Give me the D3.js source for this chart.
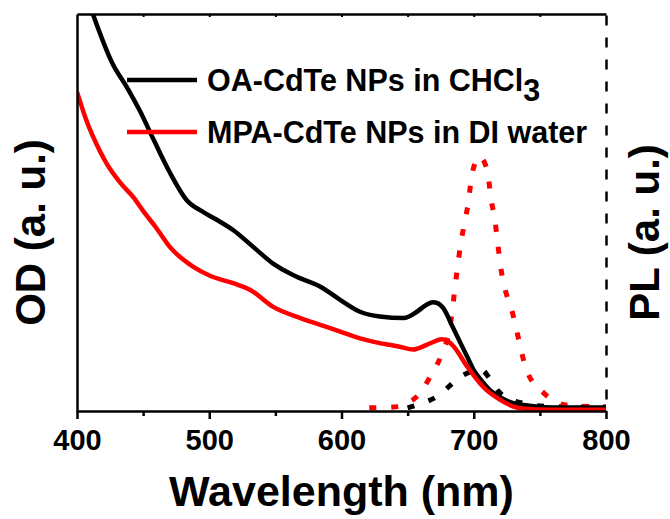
<!DOCTYPE html>
<html lang="en">
<head>
  <meta charset="UTF-8">
  <title>CdTe NPs absorption and PL</title>
  <script src="https://d3js.org/d3.v7.min.js"></script>
  <style>
    body {
      margin: 0;
      padding: 0;
      background-color: #fff;
    }
    text {
      font-family: Arial, "Liberation Sans", sans-serif;
      font-weight: bold;
      fill: #000;
    }
  </style>
</head>
<body>
  <svg id="chart" width="670" height="519"></svg>

  <script>
    // absorption of OA-CdTe in CHCl3 (solid black)
    const oaAbsWl = [400, 412, 427, 438, 448, 458, 470, 483, 495, 505, 518, 533, 548, 563, 569, 584, 599, 614, 629, 647, 657, 664, 669, 673, 677, 684, 690, 695, 700, 706, 712, 720, 727, 742, 758, 780, 800];
    const oaAbsOd = [1.12, 1.0, 0.874, 0.814, 0.753, 0.683, 0.602, 0.531, 0.502, 0.483, 0.456, 0.414, 0.372, 0.343, 0.334, 0.313, 0.280, 0.250, 0.238, 0.234, 0.250, 0.267, 0.274, 0.271, 0.259, 0.212, 0.171, 0.137, 0.103, 0.076, 0.053, 0.035, 0.023, 0.013, 0.009, 0.009, 0.009];

    // absorption of MPA-CdTe in DI water (solid red)
    const mpaAbsWl = [400, 407, 417, 423, 433, 443, 450, 460, 470, 488, 501, 518, 531, 548, 569, 584, 599, 614, 629, 644, 654, 664, 671, 676, 680, 685, 695, 707, 720, 735, 758, 800];
    const mpaAbsOd = [0.804, 0.733, 0.657, 0.620, 0.574, 0.537, 0.504, 0.461, 0.414, 0.363, 0.340, 0.322, 0.305, 0.263, 0.234, 0.217, 0.200, 0.183, 0.171, 0.162, 0.155, 0.166, 0.176, 0.181, 0.177, 0.162, 0.112, 0.061, 0.028, 0.007, 0.003, 0.003];

    // PL of OA-CdTe (dotted black)
    const oaPlWl = [650, 657, 672, 690, 697, 706, 712, 720, 738, 758, 780, 800];
    const oaPl = [0.008, 0.015, 0.036, 0.086, 0.098, 0.103, 0.082, 0.045, 0.019, 0.011, 0.010, 0.010];

    // PL of MPA-CdTe (dotted red)
    const mpaPlWl = [621, 639, 657, 667, 675, 682, 687, 690, 693, 696, 698, 701, 704, 708, 711, 713, 716, 718, 720, 730, 740, 753, 770, 788, 800];
    const mpaPl = [0.008, 0.010, 0.036, 0.086, 0.137, 0.212, 0.343, 0.418, 0.474, 0.527, 0.582, 0.625, 0.641, 0.627, 0.590, 0.536, 0.481, 0.426, 0.372, 0.238, 0.103, 0.045, 0.015, 0.011, 0.010];

    const xTicks = [400, 500, 600, 700, 800];
    const xMinorTicks = [450, 550, 650, 750];
    const legendLabels = ["OA-CdTe NPs in CHCl", "MPA-CdTe NPs in DI water"];
    const legendColors = ["#000", "#ff0000"];

    const frame = { left: 77, right: 606, top: 14, bottom: 411 };

    const svg = d3.select("#chart");

    const x = d3.scaleLinear().domain([400, 800]).range([frame.left, frame.right]);
    const yOd = d3.scaleLinear().domain([0, 1]).range([frame.bottom, frame.top]);
    const yPl = d3.scaleLinear().domain([0, 1]).range([frame.bottom, frame.top]);

    svg.append("defs").append("clipPath")
      .attr("id", "plot-clip")
      .append("rect")
      .attr("x", frame.left)
      .attr("y", frame.top)
      .attr("width", frame.right - frame.left)
      .attr("height", frame.bottom - frame.top);

    const plot = svg.append("g").attr("clip-path", "url(#plot-clip)");

    const zip = (xs, ys) => xs.map((w, i) => [w, ys[i]]);

    const odLine = d3.line()
      .x(d => x(d[0]))
      .y(d => yOd(d[1]))
      .curve(d3.curveMonotoneX);

    const plLine = d3.line()
      .x(d => x(d[0]))
      .y(d => yPl(d[1]))
      .curve(d3.curveMonotoneX);

    // PL curves sit behind the absorption curves
    plot.append("path")
      .datum(zip(oaPlWl, oaPl))
      .attr("d", plLine)
      .attr("fill", "none")
      .attr("stroke", "#000")
      .attr("stroke-width", 5)
      .attr("stroke-dasharray", "7,15");

    plot.append("path")
      .datum(zip(mpaPlWl, mpaPl))
      .attr("d", plLine)
      .attr("fill", "none")
      .attr("stroke", "#ff0000")
      .attr("stroke-width", 5)
      .attr("stroke-dasharray", "7,15");

    plot.append("path")
      .datum(zip(oaAbsWl, oaAbsOd))
      .attr("d", odLine)
      .attr("fill", "none")
      .attr("stroke", "#000")
      .attr("stroke-width", 4.5)
      .attr("stroke-linejoin", "round");

    plot.append("path")
      .datum(zip(mpaAbsWl, mpaAbsOd))
      .attr("d", odLine)
      .attr("fill", "none")
      .attr("stroke", "#ff0000")
      .attr("stroke-width", 4.5)
      .attr("stroke-linejoin", "round");

    // bottom axis: labelled major ticks plus short minor ticks
    const xAxis = svg.append("g")
      .attr("transform", `translate(0,${frame.bottom})`)
      .call(d3.axisBottom(x).tickValues(xTicks).tickSize(8).tickPadding(10).tickSizeOuter(0));
    xAxis.select(".domain").attr("stroke-width", 2.5);
    xAxis.selectAll(".tick line").attr("stroke-width", 2.5);
    xAxis.selectAll(".tick text").style("font-size", "29px");

    const xMinor = svg.append("g")
      .attr("transform", `translate(0,${frame.bottom})`)
      .call(d3.axisBottom(x).tickValues(xMinorTicks).tickSize(5).tickFormat("").tickSizeOuter(0));
    xMinor.select(".domain").remove();
    xMinor.selectAll(".tick line").attr("stroke-width", 2.5);

    // top axis with small inward ticks
    const xTop = svg.append("g")
      .attr("transform", `translate(0,${frame.top})`)
      .call(d3.axisTop(x).tickValues(d3.range(450, 800, 50)).tickSize(-3).tickFormat("").tickSizeOuter(0));
    xTop.select(".domain").attr("stroke-width", 2.5);
    xTop.selectAll(".tick line").attr("stroke-width", 2);

    // left OD axis, no ticks
    const yLeft = svg.append("g")
      .attr("transform", `translate(${frame.left},0)`)
      .call(d3.axisLeft(yOd).tickValues([]).tickSizeOuter(0));
    yLeft.select(".domain").attr("stroke-width", 2.5);

    // right PL axis, dashed
    const yRight = svg.append("g")
      .attr("transform", `translate(${frame.right},0)`)
      .call(d3.axisRight(yPl).tickValues([]).tickSizeOuter(0));
    yRight.select(".domain")
      .attr("stroke-width", 2.5)
      .attr("stroke-dasharray", "10,12")
      .attr("stroke-dashoffset", 10);

    // axis titles
    const midY = (frame.top + frame.bottom) / 2;

    svg.append("text")
      .attr("x", (frame.left + frame.right) / 2)
      .attr("y", 506)
      .attr("text-anchor", "middle")
      .style("font-size", "43px")
      .text("Wavelength (nm)");

    svg.append("text")
      .attr("transform", `translate(45,${midY + 20}) rotate(-90)`)
      .attr("text-anchor", "middle")
      .style("font-size", "42px")
      .text("OD (a. u.)");

    svg.append("text")
      .attr("transform", `translate(659,${midY + 20}) rotate(-90)`)
      .attr("text-anchor", "middle")
      .style("font-size", "42px")
      .text("PL (a. u.)");

    // legend
    const legend = svg.append("g");
    const legendY = [80, 132];
    legendLabels.forEach((label, i) => {
      legend.append("line")
        .attr("x1", 127)
        .attr("x2", 197)
        .attr("y1", legendY[i])
        .attr("y2", legendY[i])
        .attr("stroke", legendColors[i])
        .attr("stroke-width", 4.5);
      const t = legend.append("text")
        .attr("x", 207)
        .attr("y", legendY[i] + 11)
        .style("font-size", "30.5px")
        .text(label);
      if (i === 0) {
        t.append("tspan").attr("dy", 10).text("3");
      }
    });
  </script>
</body>
</html>
